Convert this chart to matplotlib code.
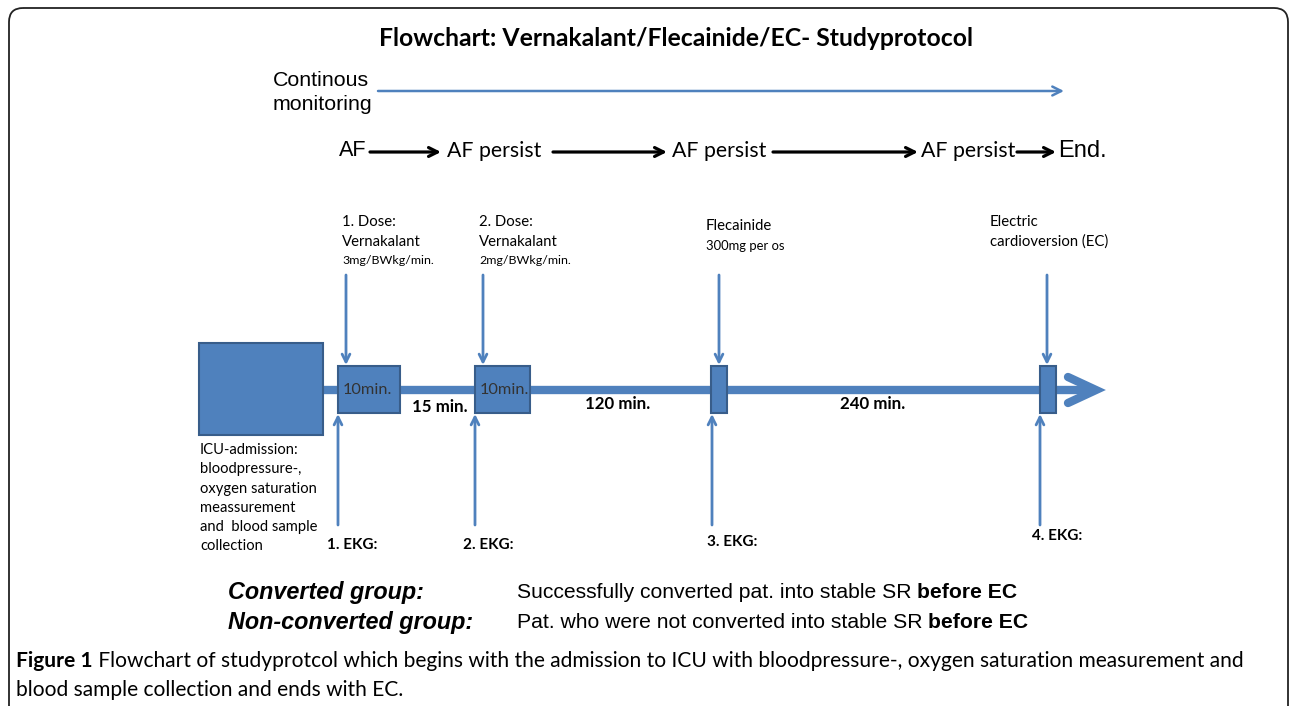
import matplotlib
matplotlib.use("Agg")
import matplotlib.pyplot as plt
from matplotlib.patches import Rectangle, FancyBboxPatch

# ---- content ----
title = "Flowchart: Vernakalant/Flecainide/EC- Studyprotocol"
monitor_label = ["Continous", "monitoring"]
af_states = ["AF", "AF persist", "AF persist", "AF persist", "End."]
doses = [["1. Dose:", "Vernakalant", "3mg/BWkg/min."],
         ["2. Dose:", "Vernakalant", "2mg/BWkg/min."],
         ["Flecainide", "300mg per os"],
         ["Electric", "cardioversion (EC)"]]
box_labels = ["10min.", "10min.", "", ""]
intervals = ["15 min.", "120 min.", "240 min."]
ekg_labels = ["1. EKG:", "2. EKG:", "3. EKG:", "4. EKG:"]
icu_lines = ["ICU-admission:", "bloodpressure-,", "oxygen saturation",
             "meassurement", "and  blood sample", "collection"]
groups = ["Converted group:", "Non-converted group:"]
group_desc = ["Successfully converted pat. into stable SR ",
              "Pat. who were not converted into stable SR "]
group_bold = ["before EC", "before EC"]
caption_bold = "Figure 1"
caption = [" Flowchart of studyprotcol which begins with the admission to ICU with bloodpressure-, oxygen saturation measurement and",
           "blood sample collection and ends with EC."]

BLUE = "#4F81BD"
EDGE = "#385D8A"
CAL = ["Lato", "DejaVu Sans"]
ARI = ["Liberation Sans", "DejaVu Sans"]

fig = plt.figure(figsize=(12.9, 7.06), dpi=100)
ax = fig.add_axes([0, 0, 1, 1])
ax.set_xlim(0, 1290)
ax.set_ylim(706, 0)
ax.axis("off")
r = fig.canvas.get_renderer()


def arrow(x0, y0, x1, y1, color, lw, ms=14, style="->"):
    ax.annotate("", xy=(x1, y1), xytext=(x0, y0),
                arrowprops=dict(arrowstyle=style, color=color, lw=lw,
                                mutation_scale=ms, shrinkA=0, shrinkB=0))


def seq(x, y, parts, **kw):
    for s, props in parts:
        t = ax.text(x, y, s, ha="left", va="center", **kw, **props)
        bb = t.get_window_extent(renderer=r)
        x = ax.transData.inverted().transform((bb.x1, bb.y0))[0]
    return x


# frame
ax.add_patch(FancyBboxPatch((9, 8), 1279, 720, boxstyle="round,pad=0,rounding_size=14",
                            fc="none", ec="#222222", lw=1.3, clip_on=False))

ax.text(676, 38, title, ha="center", va="center", fontsize=17.8,
        fontweight="bold", family=CAL)

# continuous monitoring
ax.text(273, 80, monitor_label[0], ha="left", va="center", fontsize=15.4, family=ARI)
ax.text(273, 105, monitor_label[1], ha="left", va="center", fontsize=15.4, family=ARI)
arrow(378, 91, 1064, 91, BLUE, 1.8, ms=16)

# AF row
af_x = [339, 447, 672, 921, 1058]
af_font = [ARI, CAL, CAL, CAL, ARI]
af_size = [15.6, 15.3, 15.3, 15.3, 17]
arr_span = [(370, 441), (553, 667), (773, 918), (1017, 1056)]
for i, s in enumerate(af_states):
    ax.text(af_x[i], 151, s, ha="left", va="center", fontsize=af_size[i], family=af_font[i])
for a, b in arr_span:
    arrow(a, 152, b, 152, "black", 2.3, ms=16)

# doses above timeline
dose_x = [342, 479, 706, 990]
dose_y0 = [222, 222, 226, 222]
arrow_x_top = [346, 483, 719, 1047]
for i, lines in enumerate(doses):
    for j, s in enumerate(lines):
        if j == 2:
            fs = 8.9
        elif i == 2 and j == 1:
            fs = 9.4
        else:
            fs = 10.7
        ax.text(dose_x[i], dose_y0[i] + 19.5 * j, s, ha="left", va="center",
                fontsize=fs, family=CAL)
    arrow(arrow_x_top[i], 275, arrow_x_top[i], 365, BLUE, 2.0, ms=14)

# timeline
ax.add_patch(Rectangle((199, 343), 124, 92, fc=BLUE, ec=EDGE, lw=1.5, zorder=3))
ax.plot([323, 1094], [390, 390], color=BLUE, lw=6, solid_capstyle="butt", zorder=2)
ax.plot([1068, 1096, 1068], [377, 390, 403], color=BLUE, lw=6,
        solid_capstyle="round", solid_joinstyle="miter", zorder=2)
box_x = [(338, 400), (475, 530), (711, 727), (1040, 1056)]
for (a, b), lab in zip(box_x, box_labels):
    ax.add_patch(Rectangle((a, 366), b - a, 47, fc=BLUE, ec=EDGE, lw=1.5, zorder=3))
    if lab:
        ax.text(a + 5, 390, lab, ha="left", va="center", fontsize=11.8,
                family=CAL, color="#333333", zorder=4)
int_x = [412, 585, 840]
int_y = [407, 404, 404]
for s, x, y in zip(intervals, int_x, int_y):
    ax.text(x, y, s, ha="left", va="center", fontsize=12.2, fontweight="bold", family=CAL)

# EKG arrows below
ekg_arrow_x = [338, 475, 712, 1040]
ekg_text_x = [327, 463, 707, 1032]
ekg_text_y = [545, 545, 542, 536]
for i, s in enumerate(ekg_labels):
    arrow(ekg_arrow_x[i], 525, ekg_arrow_x[i], 414, BLUE, 2.0, ms=14)
    ax.text(ekg_text_x[i], ekg_text_y[i], s, ha="left", va="center",
            fontsize=11, fontweight="bold", family=CAL)

for j, s in enumerate(icu_lines):
    ax.text(200, 450 + 19.3 * j, s, ha="left", va="center", fontsize=10.6, family=CAL)

# groups
for i in range(2):
    y = 593 + 29 * i
    ax.text(228, y, groups[i], ha="left", va="center", fontsize=16.8,
            fontweight="bold", style="italic", family=ARI)
    seq(517, y, [(group_desc[i], {}), (group_bold[i], {"fontweight": "bold"})],
        fontsize=15.2, family=ARI)

# caption
seq(16, 661, [(caption_bold, {"fontweight": "bold"}), (caption[0], {})],
    fontsize=15.1, family=CAL)
ax.text(16, 690, caption[1], ha="left", va="center", fontsize=15.1, family=CAL)

fig.savefig("out.png", dpi=100)
